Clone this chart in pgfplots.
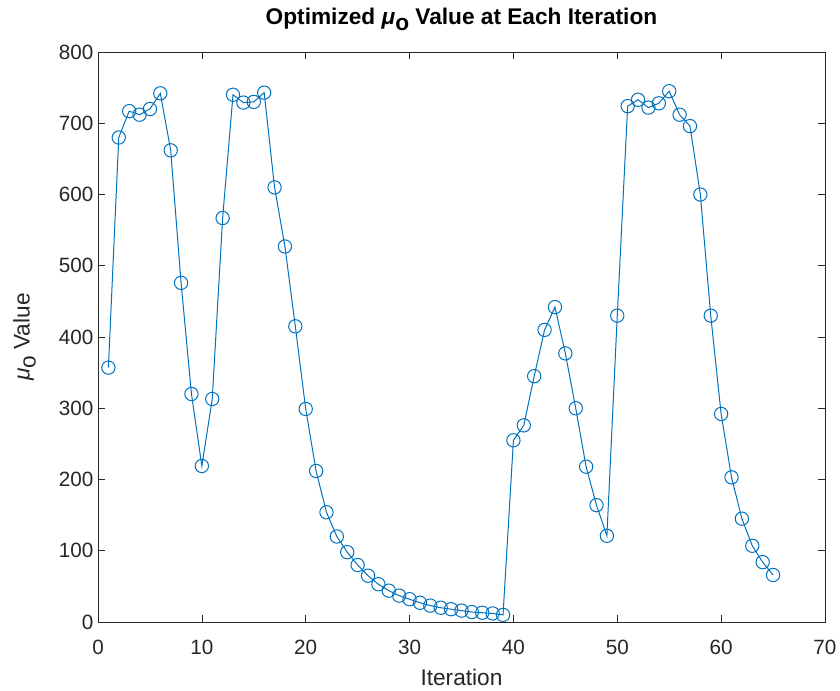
\documentclass[border=0pt]{standalone}
\usepackage{fontspec}
\setmainfont{Liberation Sans}
\usepackage{pgfplots}
\pgfplotsset{compat=1.18}
\definecolor{mblue}{rgb}{0,0.447,0.741}
\definecolor{mgray}{rgb}{0.15,0.15,0.15}
\begin{document}
\begin{tikzpicture}
\path[use as bounding box] (-73.5pt,-51pt) rectangle (556.5pt,466.5pt);
\begin{axis}[
  at={(0,0)}, anchor=south west,
  scale only axis,
  width=545.25pt, height=427.5pt,
  xmin=0, xmax=70, ymin=0, ymax=800,
  xtick={0,10,...,70}, ytick={0,100,...,800},
  tick align=inside,
  major tick length=5pt,
  axis line style={mgray, line width=0.5pt},
  tick style={mgray, line width=0.5pt},
  /pgf/number format/assume math mode=true,
  ticklabel style={font=\fontsize{15.5pt}{18pt}\selectfont, text=mgray},
  xticklabel style={anchor=base, yshift=-24.5pt},
  title={\bfseries Optimized \textit{μ}\raisebox{-0.5ex}{o} Value at Each Iteration},
  title style={font=\fontsize{17pt}{20pt}\selectfont, yshift=6.5pt},
  xlabel={Iteration},
  ylabel={\textit{μ}\raisebox{-0.5ex}{o} Value},
  label style={font=\fontsize{17pt}{20pt}\selectfont, text=mgray},
  xlabel style={at={(axis description cs:0.5,-0.098)}, anchor=center},
  ylabel style={at={(axis description cs:-0.101,0.5)}, anchor=center},
]
\addplot[mblue, line width=0.75pt, mark=o, mark size=5pt, mark options={line width=0.75pt}] coordinates {
(1,357)(2,680)(3,717)(4,712)(5,720)(6,742)(7,662)(8,476)(9,320)(10,219)
(11,313)(12,567)(13,740)(14,729)(15,730)(16,743)(17,610)(18,527)(19,415)(20,299)
(21,212)(22,154)(23,120)(24,98)(25,80)(26,65)(27,53)(28,44)(29,37)(30,32)
(31,27)(32,23)(33,20)(34,18)(35,16)(36,14)(37,13)(38,12)(39,10)(40,255)
(41,276)(42,345)(43,410)(44,442)(45,377)(46,300)(47,218)(48,164)(49,121)(50,430)
(51,724)(52,733)(53,722)(54,728)(55,745)(56,712)(57,696)(58,600)(59,430)(60,292)
(61,203)(62,145)(63,107)(64,84)(65,66)
};
\end{axis}
\end{tikzpicture}
\end{document}
